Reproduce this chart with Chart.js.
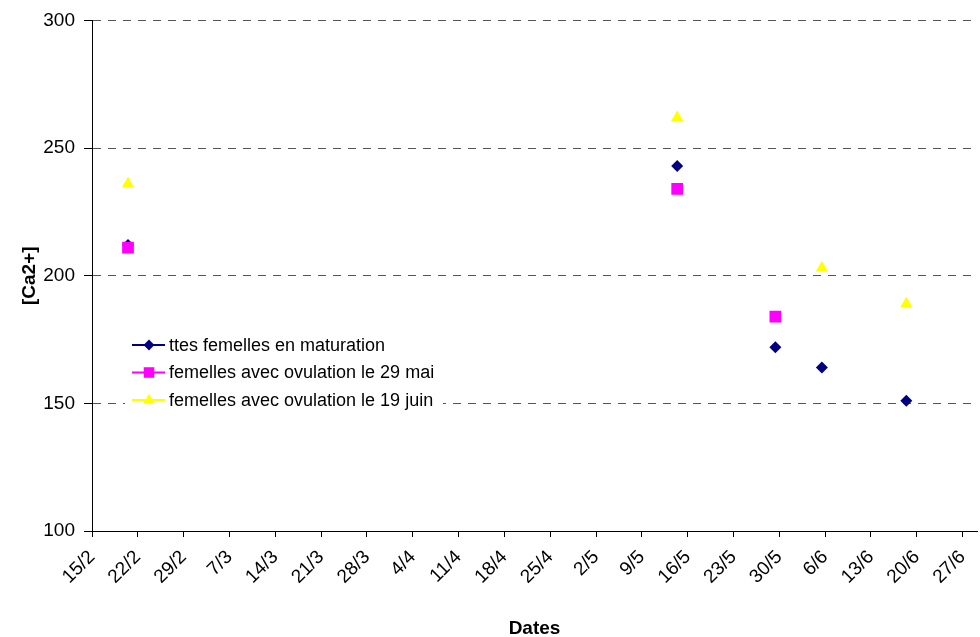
<!DOCTYPE html>
<html>
<head>
<meta charset="utf-8">
<script src="https://cdn.jsdelivr.net/npm/chart.js@4"></script>
<style>
html,body{margin:0;padding:0;background:#fff;}
#wrap{width:980px;height:637px;}
</style>
</head>
<body>
<div id="wrap"><canvas id="c" width="980" height="637"></canvas></div>
<script>
// Weekly tick labels (x axis = days since 15/2)
const xTickLabels = ['15/2','22/2','29/2','7/3','14/3','21/3','28/3','4/4','11/4','18/4','25/4','2/5','9/5','16/5','23/5','30/5','6/6','13/6','20/6','27/6'];
const yTickValues = [100, 150, 200, 250, 300];

const seriesNames = ['ttes femelles en maturation', 'femelles avec ovulation le 29 mai', 'femelles avec ovulation le 19 juin'];

// Series values (x = days after 15/2, y = [Ca2+])
const maturationDays = [5.5, 89.4, 104.4, 111.5, 124.4];
const maturationCa   = [212, 243, 172, 164, 151];

const mai29Days = [5.5, 89.4, 104.4];
const mai29Ca   = [211, 234, 184];

const juin19Days = [5.5, 89.4, 111.5, 124.4];
const juin19Ca   = [236, 262, 203, 189];

const FONT = "'Liberation Sans', Arial, sans-serif";
const zip = (xs, ys) => xs.map((x, i) => ({x: x, y: ys[i]}));

const colors = ['#000080', '#FF00FF', '#FFFF00'];
const styles = ['rectRot', 'rect', 'triangle'];
const radii = [6, 8.3, 7];

function drawMarker(ctx, style, x, y, r, color) {
  ctx.save();
  ctx.fillStyle = color;
  ctx.beginPath();
  if (style === 'rectRot') {
    ctx.moveTo(x, y - r); ctx.lineTo(x + r, y); ctx.lineTo(x, y + r); ctx.lineTo(x - r, y);
  } else if (style === 'rect') {
    const s = r * Math.SQRT1_2;
    ctx.rect(x - s, y - s, 2 * s, 2 * s);
  } else {
    ctx.moveTo(x, y - r);
    ctx.lineTo(x + r * Math.sin(Math.PI / 3), y + r / 2);
    ctx.lineTo(x - r * Math.sin(Math.PI / 3), y + r / 2);
  }
  ctx.closePath();
  ctx.fill();
  ctx.restore();
}

const legendPlugin = {
  id: 'insideLegend',
  afterDraw(chart) {
    const ctx = chart.ctx;
    ctx.save();
    ctx.fillStyle = '#fff';
    ctx.fillRect(125, 333, 318, 80);
    const rows = [345, 372.5, 400];
    seriesNames.forEach((name, i) => {
      const y = rows[i];
      ctx.strokeStyle = colors[i];
      ctx.lineWidth = 2;
      ctx.beginPath(); ctx.moveTo(132, y); ctx.lineTo(165, y); ctx.stroke();
      drawMarker(ctx, styles[i], 149, y, radii[i] * 0.9, colors[i]);
      ctx.fillStyle = '#000';
      ctx.font = '18px ' + FONT;
      ctx.textBaseline = 'middle';
      ctx.textAlign = 'left';
      ctx.fillText(name, 169, y + 1);
    });
    ctx.restore();
  }
};

const dsCommon = {showLine: false, borderWidth: 0};

new Chart(document.getElementById('c'), {
  type: 'scatter',
  data: {
    datasets: [
      Object.assign({label: seriesNames[0], data: zip(maturationDays, maturationCa), backgroundColor: colors[0], borderColor: colors[0], pointStyle: styles[0], pointRadius: radii[0], order: 2}, dsCommon),
      Object.assign({label: seriesNames[1], data: zip(mai29Days, mai29Ca), backgroundColor: colors[1], borderColor: colors[1], pointStyle: styles[1], pointRadius: radii[1], order: 1}, dsCommon),
      Object.assign({label: seriesNames[2], data: zip(juin19Days, juin19Ca), backgroundColor: colors[2], borderColor: colors[2], pointStyle: styles[2], pointRadius: radii[2], order: 0}, dsCommon)
    ]
  },
  options: {
    responsive: false,
    animation: false,
    devicePixelRatio: 1,
    layout: {autoPadding: false, padding: {top: 20, right: 3, left: 0, bottom: 0}},
    plugins: {legend: {display: false}, tooltip: {enabled: false}},
    scales: {
      x: {
        type: 'linear',
        min: 0,
        max: 135.2,
        afterBuildTicks: s => { s.ticks = xTickLabels.map((l, i) => ({value: i * 7})); },
        afterFit: s => { s.height = 106; s.paddingRight = 0; s.paddingLeft = 0; },
        ticks: {
          callback: v => xTickLabels[Math.round(v / 7)],
          minRotation: 45, maxRotation: 45, autoSkip: false,
          font: {family: FONT, size: 19}, color: '#000', padding: 9
        },
        grid: {drawOnChartArea: false, drawTicks: true, tickLength: 6, color: '#000', tickColor: '#000'},
        border: {color: '#000', width: 1},
        title: {display: true, text: 'Dates', color: '#000', font: {family: FONT, size: 19, weight: 'bold'}, padding: {top: 0, bottom: -3}}
      },
      y: {
        min: 100,
        max: 300,
        afterBuildTicks: s => { s.ticks = yTickValues.map(v => ({value: v})); },
        afterFit: s => { s.width = 92; },
        ticks: {font: {family: FONT, size: 19}, color: '#000', padding: 9},
        grid: {color: '#555', tickColor: '#000', tickLength: 8, lineWidth: 1},
        border: {color: '#000', width: 1, dash: [8, 7]},
        title: {display: true, text: '[Ca2+]', color: '#000', font: {family: FONT, size: 19, weight: 'bold'}, padding: {top: 18, bottom: 0}}
      }
    }
  },
  plugins: [legendPlugin]
});
</script>
</body>
</html>
